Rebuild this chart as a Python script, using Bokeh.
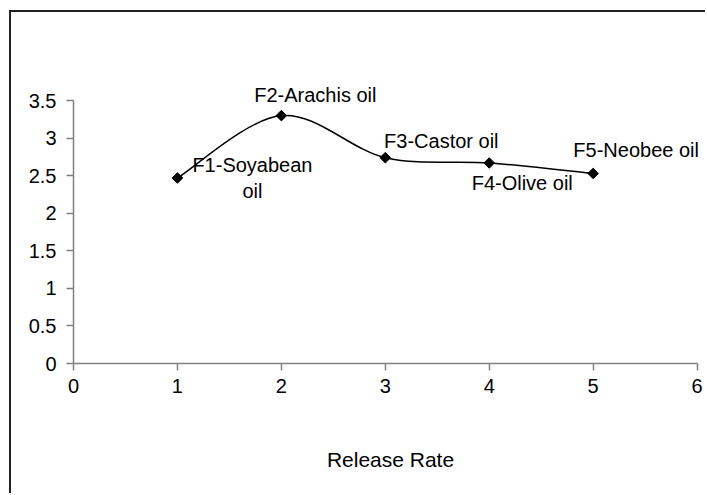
import math
from bokeh.plotting import figure
from bokeh.models import Range1d, FixedTicker, Label, ColumnDataSource
from bokeh.embed import file_html
from bokeh.resources import INLINE

# ---- data ----
x_vals = [1, 2, 3, 4, 5]
y_vals = [2.47, 3.30, 2.74, 2.67, 2.53]
labels = ["F1-Soyabean\noil", "F2-Arachis oil", "F3-Castor oil", "F4-Olive oil", "F5-Neobee oil"]
x_ticks = [0, 1, 2, 3, 4, 5, 6]
y_ticks = [0, 0.5, 1, 1.5, 2, 2.5, 3, 3.5]
x_title = "Release Rate"

# label offsets (screen px) - styling
lab_dx = [75, 34, 56, 33, 43]
lab_dy = [0, 21, 17, -20, 23]

FONT = "Liberation Sans"

p = figure(width=696, height=483, output_backend="svg", toolbar_location=None,
           x_range=Range1d(0, 6.1), y_range=Range1d(0, 4.433),
           min_border_left=62, min_border_right=0, min_border_top=18, min_border_bottom=132,
           margin=(10, 0, 0, 9))
p.styles = {"border-left": "2px solid #222222", "border-top": "2px solid #222222"}
p.grid.visible = False
p.outline_line_color = None
p.background_fill_color = "white"
p.border_fill_color = "white"

for ax in (p.xaxis[0], p.yaxis[0]):
    ax.axis_line_color = "#808080"
    ax.axis_line_width = 1.5
    ax.major_tick_line_color = "#808080"
    ax.major_tick_line_width = 1.5
    ax.major_tick_out = 7
    ax.major_tick_in = 0
    ax.minor_tick_line_color = None
    ax.major_label_text_font = FONT
    ax.major_label_text_font_size = "20px"
    ax.major_label_text_color = "black"

p.yaxis.bounds = (0, 3.5)
p.xaxis.bounds = (0, 6)
p.xaxis.ticker = FixedTicker(ticks=x_ticks)
p.yaxis.ticker = FixedTicker(ticks=y_ticks)
p.xaxis.major_label_standoff = 8
p.yaxis.major_label_standoff = 10
p.xaxis.axis_label = x_title
p.xaxis.axis_label_text_font = FONT
p.xaxis.axis_label_text_font_size = "21px"
p.xaxis.axis_label_text_font_style = "normal"
p.xaxis.axis_label_text_color = "black"
p.xaxis.axis_label_standoff = 52

# smoothed curve (Catmull-Rom -> cubic Bezier, like Excel smoothing)
n = len(x_vals)
x0, y0, x1, y1, cx0, cy0, cx1, cy1 = [], [], [], [], [], [], [], []
for i in range(n - 1):
    pm = i - 1 if i > 0 else i
    pp = i + 2 if i + 2 < n else i + 1
    x0.append(x_vals[i]); y0.append(y_vals[i])
    x1.append(x_vals[i + 1]); y1.append(y_vals[i + 1])
    cx0.append(x_vals[i] + (x_vals[i + 1] - x_vals[pm]) / 6)
    cy0.append(y_vals[i] + (y_vals[i + 1] - y_vals[pm]) / 6)
    cx1.append(x_vals[i + 1] - (x_vals[pp] - x_vals[i]) / 6)
    cy1.append(y_vals[i + 1] - (y_vals[pp] - y_vals[i]) / 6)
bsrc = ColumnDataSource(dict(x0=x0, y0=y0, x1=x1, y1=y1, cx0=cx0, cy0=cy0, cx1=cx1, cy1=cy1))
p.bezier(x0="x0", y0="y0", x1="x1", y1="y1", cx0="cx0", cy0="cy0", cx1="cx1", cy1="cy1",
         source=bsrc, line_color="black", line_width=1.5)

p.scatter(x_vals, y_vals, marker="square", angle=math.pi / 4, size=7.5,
          fill_color="black", line_color="black")

for xv, yv, t, dx, dy in zip(x_vals, y_vals, labels, lab_dx, lab_dy):
    p.add_layout(Label(x=xv, y=yv, text=t, x_offset=dx, y_offset=dy,
                       text_align="center", text_baseline="middle",
                       text_font=FONT, text_font_size="20px", text_color="black"))

open("out.html", "w").write(file_html(p, INLINE))
